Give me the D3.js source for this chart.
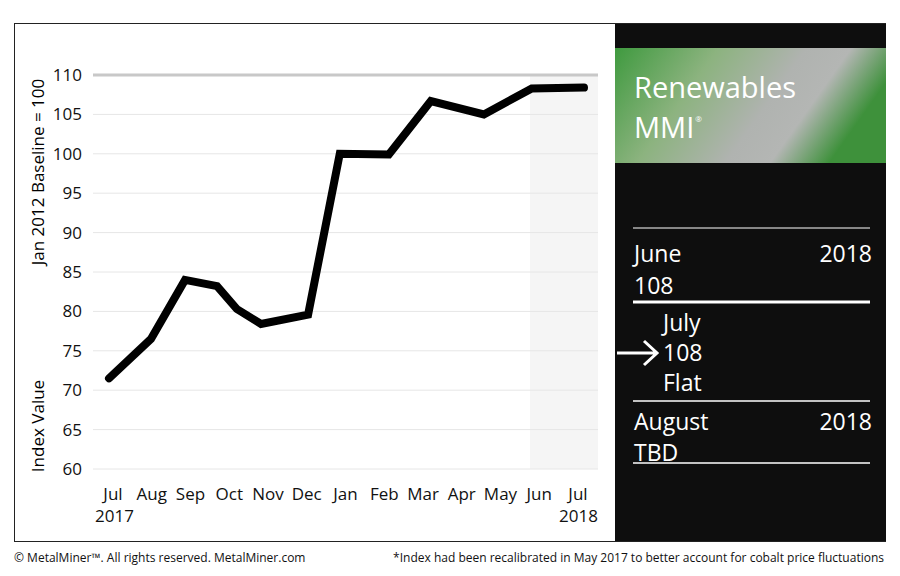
<!DOCTYPE html><html><head><meta charset="utf-8"><script src="https://cdn.jsdelivr.net/npm/d3@7"></script>
<style>body{margin:0;background:#fff}text{font-family:"Open Sans",sans-serif}</style></head><body><svg id="c" width="900" height="576"></svg>
<script>
const monthLabels=["Jul","Aug","Sep","Oct","Nov","Dec","Jan","Feb","Mar","Apr","May","Jun","Jul"];
const yearLabels=["2017","","","","","","","","","","","","2018"];
const pointPos=[0,1.06,1.92,2.73,3.23,3.84,5.03,5.83,7.07,8.13,9.47,10.68,12];
const pointVal=[71.5,76.5,84,83.2,80.3,78.4,79.6,100,99.9,106.7,105,108.3,108.4];
const yTicks=[60,65,70,75,80,85,90,95,100,105,110];
const svg=d3.select("#c");
svg.append("rect").attr("x",14.5).attr("y",23.5).attr("width",871).attr("height",518).attr("fill","#fff").attr("stroke","#222");
const x=d3.scaleLinear().domain([0,12]).range([109,584]);
const xl=d3.scaleLinear().domain([0,12]).range([113,578]);
const y=d3.scaleLinear().domain([60,110]).range([469,75]);
svg.append("rect").attr("x",530).attr("y",y(110)).attr("width",68).attr("height",y(60)-y(110)).attr("fill","#f5f5f5");
yTicks.forEach(t=>{svg.append("line").attr("x1",93).attr("x2",598).attr("y1",y(t)).attr("y2",y(t))
 .attr("stroke",t==110?"#c8c8c8":"#e6e6e6").attr("stroke-width",t==110?3:1);
 svg.append("text").attr("x",82).attr("y",y(t)+6).attr("text-anchor","end").attr("font-size",17).attr("fill","#111").text(t);});
monthLabels.forEach((m,i)=>{svg.append("text").attr("x",xl(i)).attr("y",500).attr("text-anchor","middle").attr("font-size",17).attr("fill","#111").text(m);
 if(yearLabels[i])svg.append("text").attr("x",i==0?95:598).attr("y",522).attr("text-anchor",i==0?"start":"end").attr("font-size",17).attr("fill","#111").text(yearLabels[i]);});
svg.append("text").attr("transform","translate(44,172) rotate(-90)").attr("text-anchor","middle").attr("font-size",17).text("Jan 2012 Baseline = 100");
svg.append("text").attr("transform","translate(44,426) rotate(-90)").attr("text-anchor","middle").attr("font-size",17).text("Index Value");
svg.append("path").datum(pointPos.map((p,i)=>[p,pointVal[i]])).attr("fill","none").attr("stroke","#000").attr("stroke-width",8)
 .attr("stroke-linejoin","miter").attr("stroke-linecap","round").attr("d",d3.line().x(d=>x(d[0])).y(d=>y(d[1])));
svg.append("rect").attr("x",615).attr("y",24).attr("width",271).attr("height",517).attr("fill","#0e0e0e");
const g=svg.append("defs").append("linearGradient").attr("id","gr").attr("x1","0").attr("x2","1").attr("y1","0").attr("y2","0.3");
[[0,"#3f9a3f"],[0.35,"#8cb37f"],[0.65,"#b0b3b0"],[0.8,"#b4b6b4"],[1,"#3e913b"]].forEach(s=>g.append("stop").attr("offset",s[0]).attr("stop-color",s[1]));
svg.append("rect").attr("x",615).attr("y",48).attr("width",271).attr("height",115).attr("fill","url(#gr)");
const T=(t,xx,yy,sz,anc)=>svg.append("text").attr("x",xx).attr("y",yy).attr("font-size",sz).attr("fill","#fff").attr("text-anchor",anc||"start").text(t);
T("Renewables",634,98,29);
const mmi=T("MMI",634,138,29);
T("®",634+mmi.node().getComputedTextLength()+1,122,8);
[[228,1],[302,3],[401,1.5],[463,1.5]].forEach(l=>svg.append("line").attr("x1",633).attr("x2",870).attr("y1",l[0]).attr("y2",l[0]).attr("stroke","#fff").attr("stroke-width",l[1]));
T("June",634,262,23);T("2018",872,262,23,"end");T("108",634,294,23);
T("July",663,331,23);T("108",663,361,23);T("Flat",663,391,23);
T("August",634,430,23);T("2018",872,430,23,"end");T("TBD",634,461,23);
svg.append("path").attr("d","M617,353H656M644,341L657,353L644,365").attr("fill","none").attr("stroke","#fff").attr("stroke-width",3);
svg.append("text").attr("x",14).attr("y",562).attr("font-size",12).attr("fill","#111").text("© MetalMiner™. All rights reserved. MetalMiner.com");
svg.append("text").attr("x",884).attr("y",562).attr("font-size",12).attr("fill","#111").attr("text-anchor","end").text("*Index had been recalibrated in May 2017 to better account for cobalt price fluctuations");
</script></body></html>
